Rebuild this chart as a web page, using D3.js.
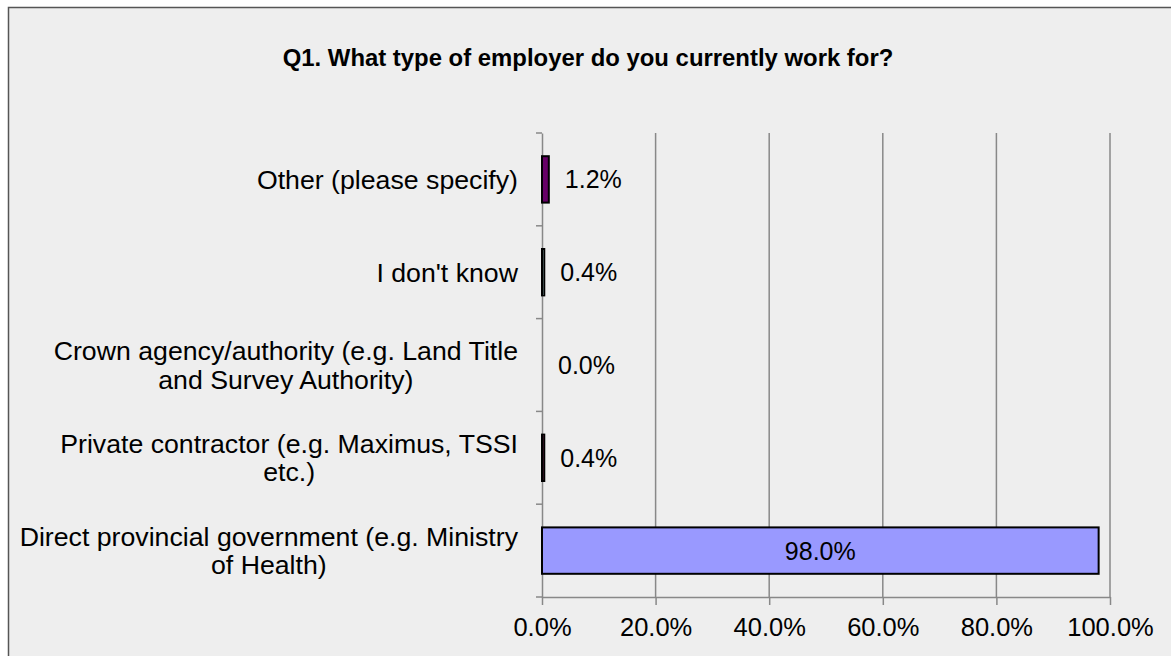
<!DOCTYPE html>
<html><head><meta charset="utf-8">
<script src="https://cdn.jsdelivr.net/npm/d3@7"></script>
<style>
html,body{margin:0;padding:0;background:#fff;}
svg{display:block;font-family:"Liberation Sans",Arial,sans-serif;}
</style></head>
<body>
<svg id="chart" width="1171" height="656"></svg>
<script>
const title = "Q1. What type of employer do you currently work for?";
const categories = [
  ["Other (please specify)"],
  ["I don't know"],
  ["Crown agency/authority (e.g. Land Title", "and Survey Authority)"],
  ["Private contractor (e.g. Maximus, TSSI", "etc.)"],
  ["Direct provincial government (e.g. Ministry", "of Health)"]
];
const values = [0.012, 0.004, 0.0, 0.004, 0.980];
const valueLabels = ["1.2%", "0.4%", "0.0%", "0.4%", "98.0%"];
const colors = ["#660066", "#ccffff", "#ffffcc", "#993366", "#9999ff"];
const xTicks = [0, 0.2, 0.4, 0.6, 0.8, 1.0];

(function(){
const svg = d3.select("#chart");
const W = 1171, H = 656;
const pL = 542, pR = 1110, pT = 133, pB = 597;
const fs = 25, fsCat = 26.7, fsTick = 25.5;

svg.append("rect").attr("x", 8.5).attr("y", 7.5).attr("width", W + 20).attr("height", H + 20)
  .attr("fill", "#eeeeee").attr("stroke", "#555").attr("stroke-width", 1.5);

svg.append("text").attr("x", 588).attr("y", 66).attr("text-anchor", "middle")
  .attr("font-size", 23.9).attr("font-weight", "bold").attr("fill", "#000").text(title);

const x = d3.scaleLinear().domain([0, 1]).range([pL, pR]);
const idx = d3.range(categories.length);
const y = d3.scaleBand().domain(idx).range([pT, pB]).paddingInner(0.5).paddingOuter(0.25);

svg.append("g").selectAll("line").data(xTicks.slice(1)).join("line")
  .attr("x1", d => x(d)).attr("x2", d => x(d)).attr("y1", pT).attr("y2", pB)
  .attr("stroke", "#888").attr("stroke-width", 1.5);

const xAxis = svg.append("g").attr("transform", `translate(0,${pB})`)
  .call(d3.axisBottom(x).tickValues(xTicks).tickFormat(d3.format(".1%")).tickSizeInner(8).tickSizeOuter(0).tickPadding(13));
xAxis.select(".domain").attr("stroke", "#888").attr("stroke-width", 1.5);
xAxis.selectAll(".tick line").attr("stroke", "#888").attr("stroke-width", 1.5);
xAxis.selectAll("text").attr("font-size", fsTick).attr("font-family", "Liberation Sans, Arial, sans-serif").attr("fill", "#000");

const bandStep = (pB - pT) / categories.length;
const yAxis = svg.append("g").attr("transform", `translate(${pL},0)`)
  .call(d3.axisLeft(y).tickFormat("").tickSize(0).tickSizeOuter(0));
yAxis.select(".domain").attr("stroke", "#888").attr("stroke-width", 1.5);
svg.append("g").selectAll("line").data(d3.range(categories.length + 1)).join("line")
  .attr("x1", pL - 6).attr("x2", pL).attr("y1", d => pT + d * bandStep).attr("y2", d => pT + d * bandStep)
  .attr("stroke", "#888").attr("stroke-width", 1.5);

const labelRight = 518;
const lh = 28.5;
idx.forEach(i => {
  const lines = categories[i];
  const g = svg.append("g");
  const cy = y(i) + y.bandwidth() / 2;
  const texts = lines.map((s, k) => g.append("text")
    .attr("y", cy + (k - (lines.length - 1) / 2) * lh + fsCat * 0.35)
    .attr("font-size", fsCat).attr("text-anchor", "middle").attr("fill", "#000").text(s));
  const maxW = d3.max(texts, t => t.node().getComputedTextLength());
  texts.forEach(t => t.attr("x", labelRight - maxW / 2));
});

svg.append("g").selectAll("rect").data(idx).join("rect")
  .attr("x", x(0)).attr("y", i => y(i)).attr("height", y.bandwidth())
  .attr("width", i => x(values[i]) - x(0))
  .attr("fill", i => colors[i]).attr("stroke", "#000").attr("stroke-width", 2);

svg.append("g").selectAll("text").data(idx).join("text")
  .attr("x", i => values[i] > 0.5 ? (x(0) + x(values[i])) / 2 : x(values[i]) + 16)
  .attr("text-anchor", i => values[i] > 0.5 ? "middle" : "start")
  .attr("y", i => y(i) + y.bandwidth() / 2 + fs * 0.36)
  .attr("font-size", fs).attr("fill", "#000").text(i => valueLabels[i]);
})();
</script>
</body></html>
